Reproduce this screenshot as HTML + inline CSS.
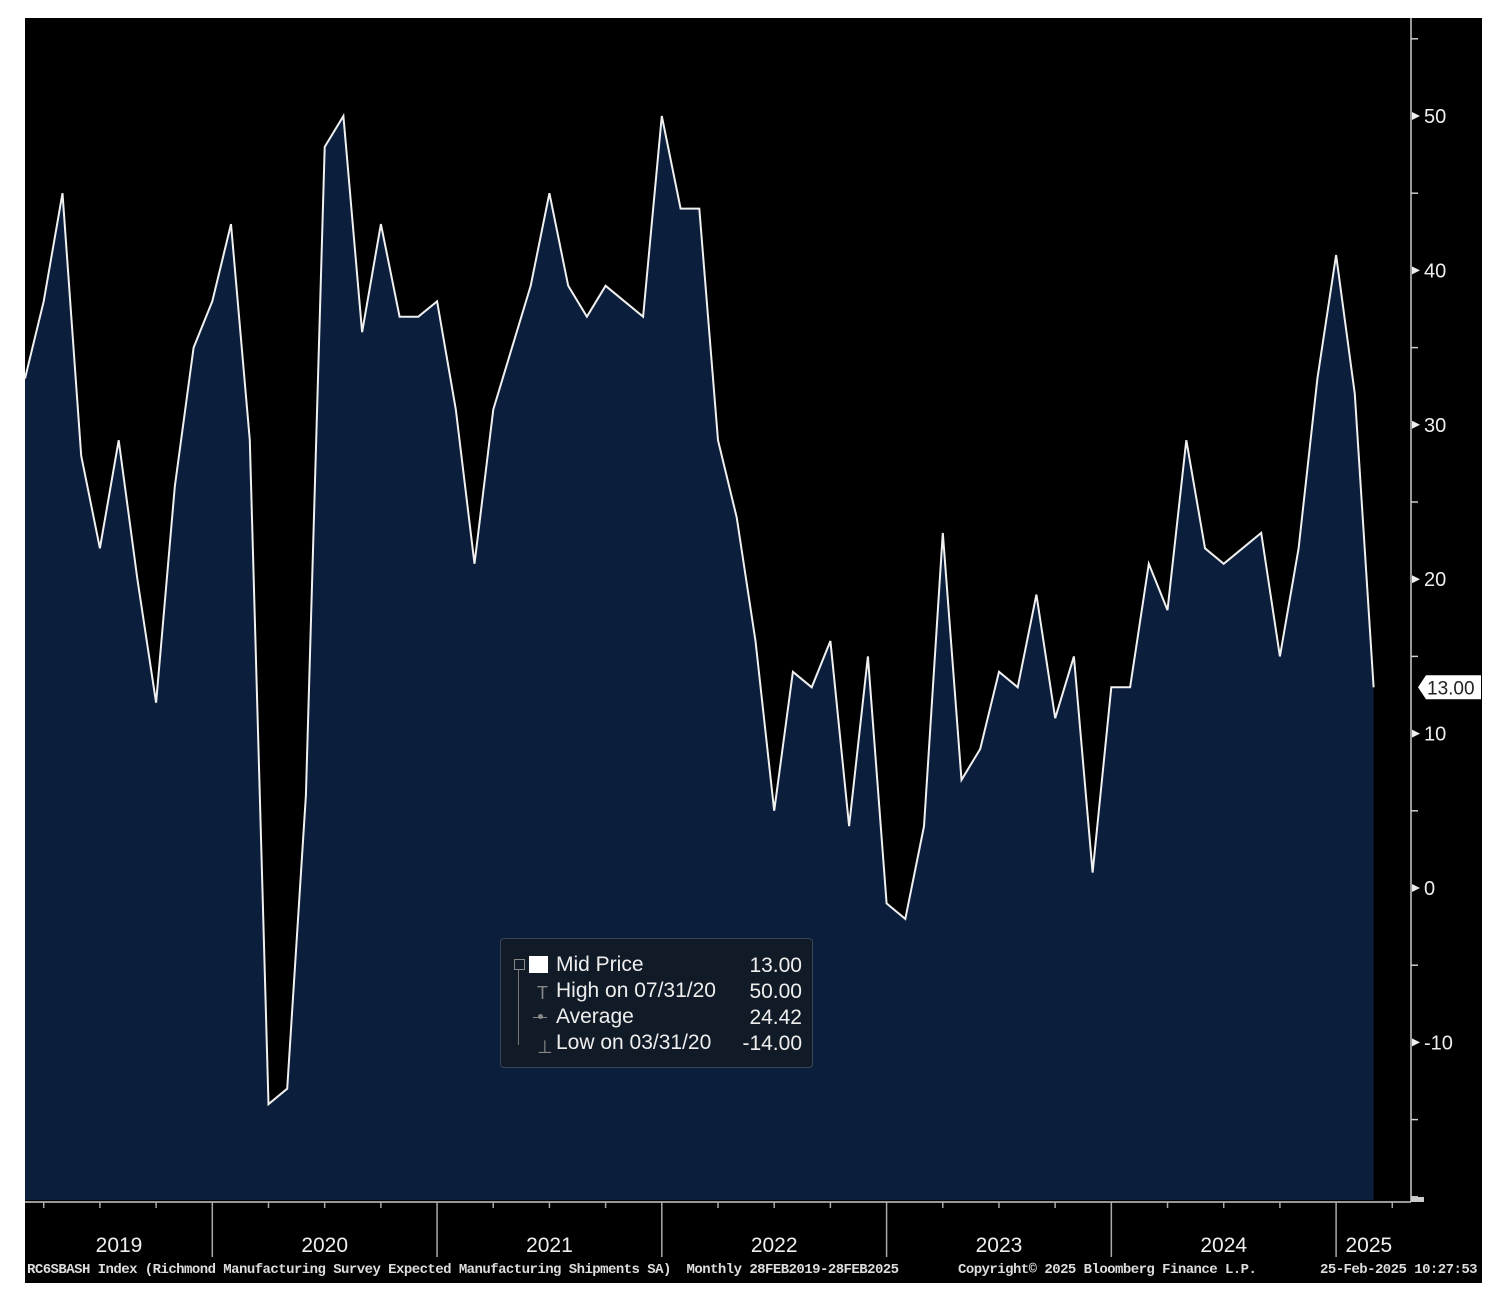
<!DOCTYPE html>
<html><head><meta charset="utf-8"><style>
body{margin:0;background:#fff;width:1496px;height:1298px;overflow:hidden}
svg{display:block}
text{font-family:"Liberation Sans",sans-serif}
.ft{position:absolute;top:1262px;color:#ddd;font-family:'Liberation Mono',monospace;font-size:14px;letter-spacing:-0.55px;white-space:nowrap;font-weight:600}
</style></head><body>
<svg id="chart" width="1496" height="1298" xmlns="http://www.w3.org/2000/svg">
<rect x="25" y="18" width="1457" height="1265" fill="#000"/>
<g id="plot"></g>
</svg>
<script>
const values=[33,38,45,28,22,29,20,12,26,35,38,43,29,-14,-13,6,48,50,36,43,37,37,38,31,21,31,35,39,45,39,37,39,38,37,50,44,44,29,24,16,5,14,13,16,4,15,-1,-2,4,23,7,9,14,13,19,11,15,1,13,13,21,18,29,22,21,22,23,15,22,33,41,32,13];
const yTicks=[50,40,30,20,10,0,-10];
const yMinor=[55,45,35,25,15,5,-5,-15,-20];
const years=["2019","2020","2021","2022","2023","2024","2025"];
const NS="http://www.w3.org/2000/svg";
const g=document.getElementById('plot');
const x0=25,dx=18.73;
function X(i){return x0+i*dx;}
function Y(v){return 888-v*15.44;}
function mk(t,a,p){const e=document.createElementNS(NS,t);for(const k in a)e.setAttribute(k,a[k]);(p||g).appendChild(e);return e;}
const bottom=1200;
let d='M'+X(0)+','+bottom;
values.forEach((v,i)=>{d+=' L'+X(i).toFixed(1)+','+Y(v).toFixed(1);});
d+=' L'+X(values.length-1)+','+bottom+' Z';
const area=mk('path',{d:d,fill:'#0b1f3c'});


let ld='';values.forEach((v,i)=>{ld+=(i?' L':'M')+X(i).toFixed(1)+','+Y(v).toFixed(1);});
const line=mk('path',{d:ld,fill:'none',stroke:'#f0f0f0','stroke-width':2});


const ya=mk('line',{x1:1411,y1:18,x2:1411,y2:1202,stroke:'#ccc','stroke-width':1.5});


const xa=mk('line',{x1:25,y1:1202,x2:1411,y2:1202,stroke:'#ccc','stroke-width':1.5});


yTicks.forEach(v=>{
 mk('polygon',{points:`1412,${Y(v)-4} 1420,${Y(v)} 1412,${Y(v)+4}`,fill:'#eee'});
 const t=mk('text',{x:1424,y:Y(v)+7,fill:'#eee','font-size':20});t.textContent=v;
 
 
});
yMinor.forEach(v=>{mk('line',{x1:1411,y1:Y(v),x2:1418,y2:Y(v),stroke:'#ccc','stroke-width':1.5});});
mk('polygon',{points:'1411,1197 1424,1197 1424,1202 1411,1202',fill:'#ccc'});
years.forEach((yr,k)=>{
 const bi=10+12*(k);
 if(k>0){mk('line',{x1:X(bi-12),y1:1202,x2:X(bi-12),y2:1257,stroke:'#aaa','stroke-width':1.5});}
 for(let q=1;q<4;q++){const xq=X(bi-12+3*q);if(xq>25&&xq<1410)mk('line',{x1:xq,y1:1202,x2:xq,y2:1208,stroke:'#aaa','stroke-width':1.5});}
 const mid=k==6?X(bi-12)+(X(values.length-1)-X(bi-12))/2+14:(Math.max(25,X(bi-12))+X(bi))/2;
 const t=mk('text',{x:k==0?119:mid,y:1252,fill:'#eee','font-size':21,'text-anchor':'middle'});t.textContent=yr;
 
 
});
const lv=values[values.length-1];
const tag=mk('g',{});


mk('polygon',{points:`1418,${Y(lv)} 1426,${Y(lv)-12} 1481,${Y(lv)-12} 1481,${Y(lv)+12} 1426,${Y(lv)+12}`,fill:'#fff'},tag);
const tt=mk('text',{x:1427,y:Y(lv)+7,fill:'#222','font-size':19},tag);tt.textContent=lv.toFixed(2);
</script>
<div style="position:absolute;left:500px;top:938px;width:311px;height:128px;background:#111a27;border:1px solid #3a4656;border-radius:4px;font-family:'Liberation Sans',sans-serif;color:#eee;font-size:21px">
 <div style="position:absolute;left:13px;top:20px;width:9px;height:9px;border:1px solid #888"></div>
 <div style="position:absolute;left:17px;top:31px;width:1px;height:75px;background:#777"></div>
 <div style="position:absolute;left:28px;top:17px;width:19px;height:17px;background:#fff"></div>
 <div style="position:absolute;left:36px;top:44px;color:#888;font-size:18px">T</div>
 <div style="position:absolute;left:32px;top:78px;width:14px;height:1px;background:#888"></div>
 <div style="position:absolute;left:37px;top:75px;width:5px;height:5px;border-radius:3px;background:#888"></div>
 <div style="position:absolute;left:36px;top:98px;color:#888;font-size:18px">⊥</div>
 <div style="position:absolute;left:55px;top:14px">Mid Price</div>
 <div style="position:absolute;left:55px;top:40px">High on 07/31/20</div>
 <div style="position:absolute;left:55px;top:66px">Average</div>
 <div style="position:absolute;left:55px;top:92px">Low on 03/31/20</div>
 <div style="position:absolute;right:10px;top:14px;text-align:right;line-height:26px">13.00<br>50.00<br>24.42<br>-14.00</div>
</div>
<div class="ft" style="left:27px">RC6SBASH Index (Richmond Manufacturing Survey Expected Manufacturing Shipments SA) &nbsp;Monthly 28FEB2019-28FEB2025</div>
<div class="ft" style="left:958px">Copyright© 2025 Bloomberg Finance L.P.</div>
<div class="ft" style="left:1320px">25-Feb-2025 10:27:53</div>
</body></html>
